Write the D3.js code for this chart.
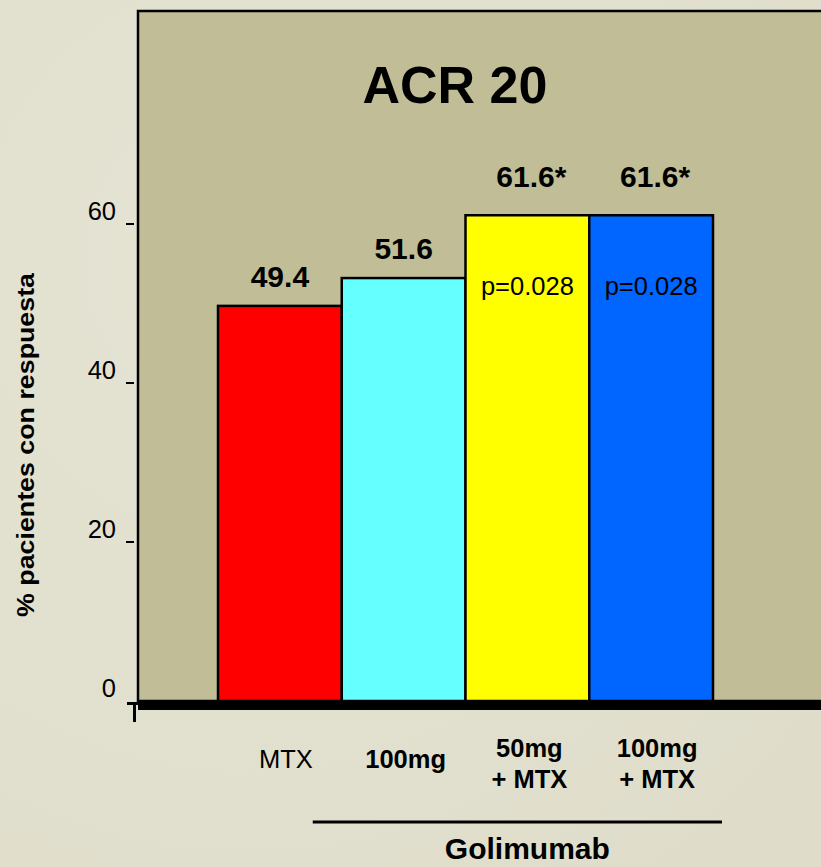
<!DOCTYPE html>
<html>
<head>
<meta charset="utf-8">
<script src="https://cdn.jsdelivr.net/npm/d3@7"></script>
<style>
  html, body { margin: 0; padding: 0; background: #e1dfcd; }
  svg { display: block; }
  text { font-family: "Liberation Sans", Arial, Helvetica, sans-serif; fill: #000; }
</style>
</head>
<body>
<svg id="chart" width="821" height="867"></svg>
<script>
// ---- data ----
const categories = ["MTX", "100mg", "50mg + MTX", "100mg + MTX"];
const categoryLines = [["MTX"], ["100mg"], ["50mg", "+ MTX"], ["100mg", "+ MTX"]];
const categoryBold = [false, true, true, true];
const values = [49.7, 53.2, 61.1, 61.1];          // bar heights as drawn
const valueLabels = ["49.4", "51.6", "61.6*", "61.6*"];
const pLabels = ["", "", "p=0.028", "p=0.028"];
const barColors = ["#ff0000", "#66ffff", "#ffff00", "#0066ff"];
const yTicks = [0, 20, 40, 60];
const title = "ACR 20";
const yTitle = "% pacientes con respuesta";
const groupTitle = "Golimumab";

// ---- layout ----
const W = 821, H = 867;
const svg = d3.select("#chart");

const y = d3.scaleLinear().domain([0, 60]).range([701, 224]);
const x = d3.scaleBand().domain(categories).range([218, 713]).padding(0);

// background subtle texture via gradient
const defs = svg.append("defs");
const rg = defs.append("radialGradient").attr("id", "bg").attr("cx", "30%").attr("cy", "30%").attr("r", "90%");
rg.append("stop").attr("offset", "0%").attr("stop-color", "#e5e3d3");
rg.append("stop").attr("offset", "100%").attr("stop-color", "#dfddca");
svg.append("rect").attr("width", W).attr("height", H).attr("fill", "url(#bg)");

// plot panel
const panelLeft = 138, panelTop = 11;
svg.append("rect")
  .attr("x", panelLeft).attr("y", panelTop)
  .attr("width", W - panelLeft + 20).attr("height", y(0) - panelTop)
  .attr("fill", "#c0bd97")
  .attr("stroke", "#000").attr("stroke-width", 2.5);

// title
svg.append("text")
  .attr("x", 455).attr("y", 103)
  .attr("text-anchor", "middle")
  .attr("font-size", 52).attr("font-weight", "bold")
  .text(title);

// bars
svg.selectAll("rect.bar")
  .data(values)
  .join("rect")
  .attr("class", "bar")
  .attr("x", (d, i) => x(categories[i]))
  .attr("y", d => y(d))
  .attr("width", x.bandwidth())
  .attr("height", d => y(0) - y(d))
  .attr("fill", (d, i) => barColors[i])
  .attr("stroke", "#000").attr("stroke-width", 2.5);

// value labels
svg.selectAll("text.val")
  .data(values)
  .join("text")
  .attr("class", "val")
  .attr("x", (d, i) => x(categories[i]) + x.bandwidth() / 2 + (valueLabels[i].endsWith("*") ? 4 : 0))
  .attr("y", (d, i) => y(d) - (valueLabels[i].endsWith("*") ? 28 : 19))
  .attr("text-anchor", "middle")
  .attr("font-size", 30).attr("font-weight", "bold")
  .text((d, i) => valueLabels[i]);

// p-value labels
svg.selectAll("text.pval")
  .data(values)
  .join("text")
  .attr("class", "pval")
  .attr("x", (d, i) => x(categories[i]) + x.bandwidth() / 2)
  .attr("y", d => y(d) + 80)
  .attr("text-anchor", "middle")
  .attr("font-size", 25.5)
  .text((d, i) => pLabels[i]);

// thick baseline
svg.append("rect")
  .attr("x", panelLeft).attr("y", y(0) + 1)
  .attr("width", W - panelLeft).attr("height", 8)
  .attr("fill", "#000");

// y ticks
const yAxisG = svg.append("g");
yAxisG.selectAll("line.tick")
  .data(yTicks.filter(t => t !== 0))
  .join("line")
  .attr("x1", 126).attr("x2", 134)
  .attr("y1", d => y(d)).attr("y2", d => y(d))
  .attr("stroke", "#000").attr("stroke-width", 2);
// zero tick ("7" shape)
yAxisG.append("path")
  .attr("d", `M127,${y(0) + 2.5} H138 M134.5,${y(0) + 2} V${y(0) + 21}`)
  .attr("fill", "none").attr("stroke", "#000").attr("stroke-width", 3);
yAxisG.selectAll("text.tl")
  .data(yTicks)
  .join("text")
  .attr("class", "tl")
  .attr("x", 116)
  .attr("y", d => y(d) - 4)
  .attr("text-anchor", "end")
  .attr("font-size", 25.5)
  .text(d => d);

// y axis title
svg.append("text")
  .attr("transform", "translate(34,445) rotate(-90)")
  .attr("text-anchor", "middle")
  .attr("font-size", 24).attr("font-weight", "bold")
  .attr("textLength", 344).attr("lengthAdjust", "spacingAndGlyphs")
  .text(yTitle);

// category labels
categories.forEach((c, i) => {
  const lines = categoryLines[i];
  const cx = x(c) + x.bandwidth() / 2 + (i === 0 || i === 3 ? 6 : 2);
  const first = lines.length === 1 ? 768 : 757;
  const t = svg.append("text")
    .attr("text-anchor", "middle")
    .attr("font-size", 25.5)
    .attr("font-weight", categoryBold[i] ? "bold" : "normal");
  lines.forEach((ln, j) => {
    t.append("tspan").attr("x", cx).attr("y", first + j * 31).text(ln);
  });
});

// group bracket line and title
const gx1 = x(categories[1]) - 29;
const gx2 = x(categories[3]) + x.bandwidth() + 9;
svg.append("line")
  .attr("x1", gx1).attr("x2", gx2)
  .attr("y1", 822).attr("y2", 822)
  .attr("stroke", "#000").attr("stroke-width", 3);
svg.append("text")
  .attr("x", (x(categories[1]) + x(categories[3]) + x.bandwidth()) / 2)
  .attr("y", 859)
  .attr("text-anchor", "middle")
  .attr("font-size", 30).attr("font-weight", "bold")
  .text(groupTitle);
</script>
</body>
</html>
